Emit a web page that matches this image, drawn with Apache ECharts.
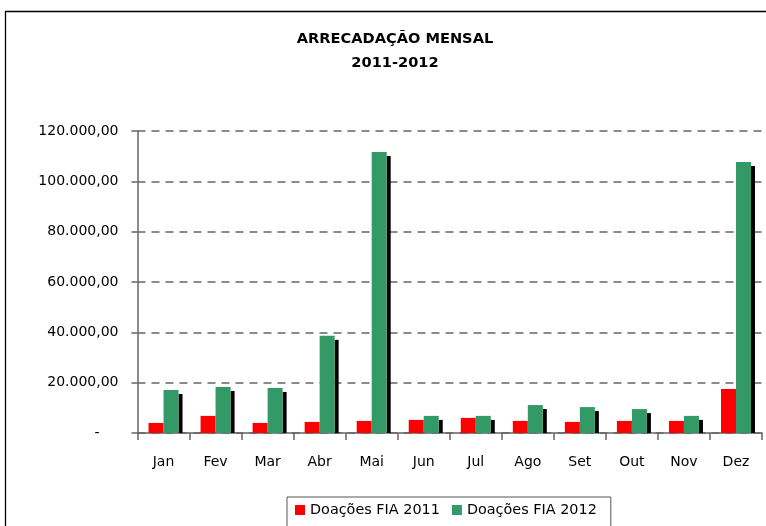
<!DOCTYPE html>
<html>
<head>
<meta charset="utf-8">
<title>Arrecadação Mensal</title>
<script src="https://cdn.jsdelivr.net/npm/echarts@6/dist/echarts.min.js"></script>
<style>
  html, body { margin: 0; padding: 0; background: #fff; }
  #chart { width: 766px; height: 526px; }
</style>
</head>
<body>
<div id="chart"></div>
<script>
  var months = ['Jan', 'Fev', 'Mar', 'Abr', 'Mai', 'Jun', 'Jul', 'Ago', 'Set', 'Out', 'Nov', 'Dez'];
  var doacoes2011 = [4000, 6800, 4000, 4400, 4800, 5200, 6000, 4800, 4400, 4800, 4800, 17500];
  var doacoes2012 = [17100, 18300, 17900, 38600, 111700, 6800, 6800, 11100, 10300, 9500, 6800, 107700];
  var yTicks = [0, 20000, 40000, 60000, 80000, 100000, 120000];

  var font = 'DejaVu Sans';
  var barW = 15;

  // formato brasileiro 120.000,00
  function fmt(v) {
    if (v === 0) return '{z|-}';
    var s = Math.round(v).toString().replace(/\B(?=(\d{3})+(?!\d))/g, '.');
    return s + ',00';
  }

  // sombra preta atrás da barra verde
  var shadowData = [];
  for (var i = 0; i < months.length; i++) {
    shadowData.push([i, doacoes2012[i]]);
  }

  var chart = echarts.init(document.getElementById('chart'));
  var option = {
    backgroundColor: '#fff',
    animation: false,
    title: {
      text: 'ARRECADAÇÃO MENSAL\n2011-2012',
      left: 395,
      top: 27,
      padding: 0,
      textAlign: 'center',
      textStyle: {
        fontFamily: font,
        fontWeight: 'bold',
        fontSize: 14.6,
        lineHeight: 24,
        color: '#000'
      }
    },
    legend: {
      data: ['Doações FIA 2011', 'Doações FIA 2012'],
      left: 287,
      top: 497,
      orient: 'horizontal',
      itemWidth: 10,
      itemHeight: 10,
      itemGap: 12,
      icon: 'rect',
      borderColor: '#555',
      borderWidth: 1,
      borderRadius: 0,
      padding: [6, 14, 10, 8],
      textStyle: { fontFamily: font, fontSize: 14.4, color: '#000' }
    },
    grid: {
      left: 137.5,
      right: 4,
      top: 131,
      bottom: 93,
      containLabel: false
    },
    xAxis: {
      type: 'category',
      data: months,
      axisLine: { lineStyle: { color: '#666', width: 1.5 } },
      axisTick: { show: true, length: 7, lineStyle: { color: '#666', width: 1.5 } },
      axisLabel: { fontFamily: font, fontSize: 14, color: '#000', margin: 22 }
    },
    yAxis: {
      type: 'value',
      min: 0,
      max: 120000,
      interval: 20000,
      axisLine: { show: true, lineStyle: { color: '#666', width: 1.5 } },
      axisTick: { show: true, length: 6, lineStyle: { color: '#666', width: 1.5 } },
      axisLabel: {
        fontFamily: font,
        fontSize: 14,
        color: '#000',
        margin: 19,
        formatter: function (v) { return yTicks.indexOf(v) >= 0 ? fmt(v) : ''; },
        rich: { z: { fontFamily: font, fontSize: 14, color: '#000', padding: [0, 19, 0, 0] } }
      },
      splitLine: { show: true, lineStyle: { color: '#666', width: 1.5, type: [8, 6] } }
    },
    series: [
      {
        name: 'Doações FIA 2011',
        type: 'bar',
        data: doacoes2011,
        barWidth: barW,
        barGap: '0%',
        itemStyle: { color: '#ff0000' },
        z: 3
      },
      {
        name: 'Doações FIA 2012',
        type: 'bar',
        data: doacoes2012,
        barWidth: barW,
        barGap: '0%',
        itemStyle: { color: '#339966' },
        z: 3
      },
      {
        name: 'sombra',
        type: 'custom',
        data: shadowData,
        encode: { x: 0, y: 1 },
        z: 2,
        renderItem: function (params, api) {
          var top = api.coord([api.value(0), api.value(1)]);
          var base = api.coord([api.value(0), 0]);
          return {
            type: 'rect',
            shape: { x: top[0] + barW, y: top[1] + 4, width: 4, height: base[1] - top[1] - 4 },
            style: { fill: '#000' }
          };
        }
      }
    ],
    graphic: [
      {
        type: 'rect',
        z: 100,
        silent: true,
        shape: { x: 5.5, y: 11.5, width: 900, height: 700 },
        style: { fill: 'none', stroke: '#000', lineWidth: 1.3 }
      }
    ]
  };
  chart.setOption(option);
  window.addEventListener('resize', function () {
    chart.resize();
  });
</script>
</body>
</html>
